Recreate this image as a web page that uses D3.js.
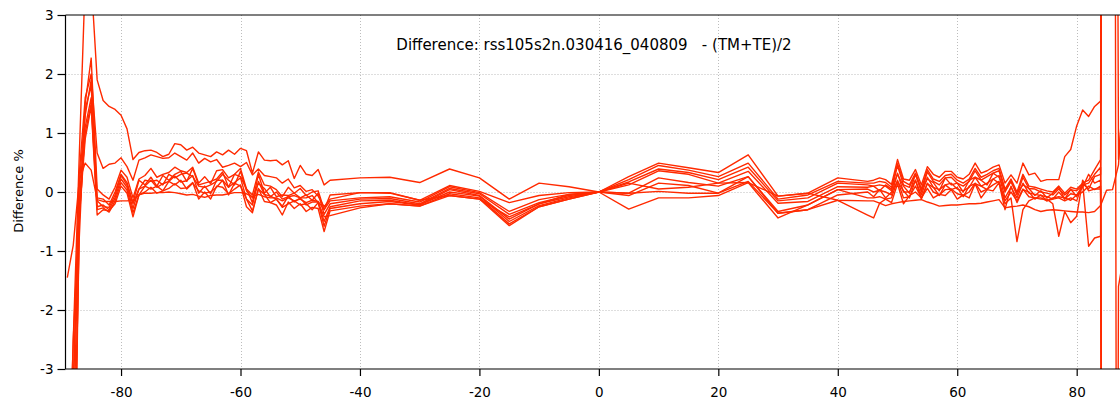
<!DOCTYPE html>
<html>
<head>
<meta charset="utf-8">
<script src="https://cdn.jsdelivr.net/npm/d3@7"></script>
<style>
  body { margin: 0; background: #fff; }
  svg { display: block; font-family: "DejaVu Sans", Verdana, sans-serif; }
</style>
</head>
<body>
<svg id="chart" width="1120" height="400"></svg>
<script>
// Latitude grid: 1-degree steps near the poles, 5-degree steps in between
const latitude = [
  -89,-88,-87,-86,-85,-84,-83,-82,-81,-80,-79,-78,-77,-76,-75,-74,-73,-72,-71,-70,
  -69,-68,-67,-66,-65,-64,-63,-62,-61,-60,-59,-58,-57,-56,-55,-54,-53,-52,-51,-50,
  -49,-48,-47,-46,
  -45,-40,-35,-30,-25,-20,-15,-10,-5,0,5,10,15,20,25,30,35,40,45,
  46,47,48,49,50,51,52,53,54,55,56,57,58,59,60,61,62,63,64,65,
  66,67,68,69,70,71,72,73,74,75,76,77,78,79,80,81,82,83,84,85,
  86,87,88,89
];

// Difference (%) for each curve, one value per latitude
const curve1 = [
  -6,-2.5,0.6,3.6,3.6,1.9,1.55,1.45,1.4,1.3,1.07,0.55,0.67,0.7,0.71,0.67,0.6,0.64,0.82,0.8,
  0.71,0.76,0.66,0.63,0.6,0.68,0.63,0.71,0.64,0.74,0.7,0.32,0.68,0.54,0.53,0.54,0.46,0.53,0.23,0.45,
  0.3,0.28,0.38,0.12,
  0.2,0.24,0.25,0.16,0.39,0.24,-0.12,0.15,0.09,0,0.26,0.49,0.41,0.33,0.63,-0.07,-0.02,0.24,0.18,
  0.2,0.24,0.21,0.13,0.55,0.22,0.2,0.38,0.12,0.43,0.3,0.25,0.35,0.35,0.25,0.22,0.3,0.49,0.32,0.36,
  0.42,0.46,0.15,0.29,0.15,0.49,0.29,0.32,0.18,0.21,0.21,0.21,0.6,0.72,1.12,1.39,1.28,1.45,1.54,30,
  30,-25,-30,-30
];
const curve2 = [
  -5,-3.5,0.3,1.6,2.0,0.66,0.4,0.47,0.49,0.58,0.43,0.2,0.54,0.58,0.63,0.6,0.57,0.58,0.66,0.6,
  0.54,0.66,0.49,0.57,0.51,0.55,0.42,0.45,0.49,0.43,0.5,0.29,0.39,0.28,0.26,0.24,0.15,0.22,0.07,0.11,
  0.01,0.04,-0.07,-0.25,
  -0.12,-0.01,-0.01,-0.14,0.11,0.01,-0.18,-0.06,-0.01,0,0.21,0.45,0.37,0.26,0.49,-0.12,-0.05,0.18,0.15,
  0.15,0.18,0.16,0.08,0.48,0.18,0.12,0.32,0.05,0.38,0.22,0.18,0.28,0.3,0.2,0.15,0.22,0.4,0.25,0.3,
  0.36,0.4,0.05,0.22,0.0,0.3,0.1,0.08,0.05,0.02,0.0,0.1,-0.02,0.08,0.05,0.15,0.2,0.38,0.55,30,
  30,0.55,2,3
];
const curve3 = [
  -9,-5.5,-0.8,1.5,2.27,0.05,-0.05,-0.12,0.08,0.37,0.25,-0.1,0.22,0.28,0.4,0.25,0.3,0.33,0.42,0.36,
  0.33,0.42,0.15,0.26,0.14,0.36,0.38,0.24,0.3,0.4,0.05,-0.05,0.34,0.12,0.1,0.04,-0.08,0.08,-0.02,0.06,
  -0.06,0.0,0.02,-0.3,
  -0.15,-0.1,-0.08,-0.17,0.09,-0.01,-0.33,-0.13,-0.04,0,0.17,0.39,0.33,0.21,0.42,-0.15,-0.1,0.15,0.12,
  0.1,0.12,0.1,0.02,0.45,0.12,0.08,0.3,0.0,0.34,0.18,0.12,0.24,0.25,0.15,0.1,0.18,0.36,0.2,0.26,
  0.32,0.36,0.0,0.18,-0.05,0.25,0.06,0.05,0.0,-0.02,-0.05,0.05,-0.05,0.04,0.02,0.12,0.15,0.3,0.42,-30,
  -30,-1.6,-1,0
];
const curve4 = [
  -7,-3.2,-0.2,1.3,1.9,-0.1,-0.12,-0.22,0.0,0.3,0.16,-0.18,
  0.2,0.12,0.25,0.1,0.28,0.2,0.3,0.35,0.18,0.4,0.12,0.15,0.18,0.22,0.34,0.08,0.3,0.26,0.05,-0.18,
  0.3,-0.02,0.08,-0.08,-0.05,-0.06,-0.02,-0.1,-0.05,-0.14,-0.02,-0.38,
  -0.2,-0.12,-0.11,-0.2,0.06,-0.03,-0.38,-0.18,-0.06,0,0.12,0.36,0.3,0.15,0.35,-0.19,-0.16,0.09,0.08,
  0.1,0.02,0.12,0.05,0.3,0.1,-0.02,0.3,0.04,0.22,0.16,0.02,0.24,0.12,0.15,0.0,0.2,0.25,0.2,0.12,
  0.32,0.25,0.02,0.18,-0.02,0.12,0.06,-0.06,0.02,-0.1,-0.02,0.08,-0.12,0.05,-0.08,0.14,0.05,0.26,0.3,30,
  30,5,5,5
];
const curve5 = [
  -10,-6,-0.5,1.1,1.6,-0.25,-0.22,-0.3,-0.1,0.22,0.08,-0.28,0.05,0.1,0.2,0.08,0.14,0.18,0.27,0.17,
  0.19,0.28,-0.02,0.1,-0.03,0.2,0.2,0.08,0.16,0.24,-0.12,-0.22,0.18,-0.04,-0.07,-0.12,-0.24,-0.07,-0.17,-0.1,
  -0.22,-0.17,-0.17,-0.5,
  -0.25,-0.15,-0.14,-0.22,0.04,-0.06,-0.46,-0.2,-0.08,0,-0.02,0.24,0.16,0.1,0.26,-0.33,-0.22,0.04,0.05,
  0.0,0.03,0.0,-0.05,0.32,0.0,0.0,0.2,-0.05,0.25,0.08,0.04,0.12,0.15,0.05,0.02,0.08,0.25,0.1,0.15,
  0.22,0.28,-0.1,0.08,-0.1,0.15,-0.02,-0.04,-0.06,-0.08,-0.12,0.0,-0.12,-0.03,-0.05,0.08,0.3,0.15,0.2,-30,
  -30,-30,-30,-30
];
const curve6 = [
  -6,-2.5,-0.3,1.0,1.5,-0.3,-0.27,-0.34,-0.15,0.16,0.03,-0.35,
  -0.05,0.1,0.05,0.1,0.02,0.18,0.12,0.2,0.05,0.15,0.02,-0.02,0.0,0.08,0.2,-0.05,0.15,0.1,-0.12,-0.32,
  0.05,-0.04,-0.18,-0.12,-0.26,-0.2,-0.15,-0.22,-0.2,-0.3,-0.18,-0.58,
  -0.28,-0.2,-0.16,-0.22,0.0,-0.07,-0.5,-0.23,-0.1,0,-0.06,0.15,0.11,-0.02,0.18,-0.36,-0.3,-0.05,0.0,
  -0.08,0.04,-0.1,0.0,0.18,0.02,-0.1,0.2,-0.12,0.14,0.08,-0.06,0.12,0.04,0.08,-0.08,0.1,0.14,0.1,0.04,
  0.22,0.15,-0.3,0.1,-0.18,0.04,0.0,-0.12,-0.05,-0.15,-0.1,-0.08,-0.1,-0.14,-0.05,0.0,0.1,0.04,0.1,-30,
  -30,-30,-30,-30
];
const curve7 = [
  -11,-7,-0.4,0.9,1.45,-0.39,-0.3,-0.32,-0.2,0.1,-0.02,-0.42,-0.05,0.0,0.08,-0.02,0.02,0.06,0.14,0.06,
  0.07,0.16,-0.12,0.0,-0.12,0.1,0.08,-0.03,0.05,0.12,-0.25,-0.35,0.06,-0.16,-0.18,-0.22,-0.39,-0.17,-0.28,-0.2,
  -0.33,-0.26,-0.28,-0.67,
  -0.32,-0.24,-0.2,-0.24,-0.03,-0.1,-0.54,-0.25,-0.12,0,0.15,0.05,0.08,0.15,0.16,-0.44,-0.22,0.04,-0.1,
  -0.1,-0.08,-0.12,-0.1,0.2,-0.1,-0.08,0.1,-0.1,0.15,0.0,-0.05,0.04,0.05,-0.03,-0.06,0.0,0.15,0.0,0.05,
  0.12,0.18,-0.15,0.0,-0.15,0.05,-0.08,-0.1,-0.12,-0.12,-0.2,-0.75,-0.33,-0.52,-0.41,0.2,0.02,0.05,0.05,-30,
  -30,-30,-30,-30
];
const curve8 = [
  -7.5,-4.5,0.1,1.4,1.8,-0.15,-0.25,-0.26,-0.05,0.28,0.12,-0.2,
  0.05,0.2,0.18,0.2,0.12,0.3,0.24,0.3,0.32,0.26,0.1,0.08,0.12,0.18,0.3,0.2,0.12,0.35,0.02,-0.1,
  0.15,0.06,-0.08,0.0,-0.12,-0.08,-0.06,-0.1,-0.1,-0.06,-0.18,-0.42,
  -0.4,-0.27,-0.2,-0.24,-0.06,-0.12,-0.57,-0.25,-0.12,0,-0.02,0.01,-0.02,-0.02,0.26,-0.36,-0.3,-0.14,-0.39,
  -0.44,-0.19,-0.12,-0.18,0.14,-0.2,-0.06,0.0,-0.1,0.06,-0.1,-0.04,-0.06,0.04,-0.12,-0.05,-0.1,0.14,-0.1,0.04,
  0.02,0.16,-0.2,-0.1,-0.84,-0.3,-0.15,-0.1,-0.1,-0.15,-0.12,-0.1,-0.15,-0.1,-0.15,0.15,-0.92,-0.78,-0.75,30,
  30,30,30,30
];
const curve9 = [
  -1.45,-0.9,0.2,0.49,0.37,-0.13,-0.16,-0.16,-0.16,-0.15,-0.15,-0.14,-0.05,-0.02,-0.02,-0.01,-0.01,0.0,-0.01,-0.03,
  -0.05,-0.04,-0.07,-0.09,-0.06,-0.05,-0.05,-0.03,-0.01,-0.01,-0.03,-0.08,-0.04,-0.08,-0.1,-0.1,-0.15,-0.1,-0.15,-0.12,
  -0.18,-0.14,-0.16,-0.3,
  -0.05,-0.01,-0.02,-0.14,-0.06,-0.12,-0.42,-0.2,-0.04,0,-0.29,-0.1,-0.1,-0.06,0.16,-0.07,-0.02,-0.14,-0.15,
  -0.15,-0.19,-0.23,-0.2,-0.18,-0.16,-0.15,-0.14,-0.13,-0.17,-0.2,-0.24,-0.23,-0.22,-0.22,-0.21,-0.2,-0.2,-0.19,-0.17,
  -0.15,-0.13,-0.27,-0.25,-0.24,-0.22,-0.25,-0.3,-0.33,-0.31,-0.3,-0.31,-0.32,-0.33,-0.34,-0.34,-0.35,-0.33,-0.23,0.03,
  0.04,0.46,2,3
];

const curves = [curve1, curve2, curve3, curve4, curve5, curve6, curve7, curve8, curve9];

const xTicks = [-80, -60, -40, -20, 0, 20, 40, 60, 80];
const yTicks = [-3, -2, -1, 0, 1, 2, 3];
const titleText = "Difference: rss105s2n.030416_040809   - (TM+TE)/2";
const yAxisLabel = "Difference %";

const svg = d3.select("#chart");
const frame = { left: 65.5, right: 1140, top: 15, bottom: 369 };

const x = d3.scaleLinear().domain([-89.3, 90.6]).range([frame.left, frame.right]);
const y = d3.scaleLinear().domain([-3, 3]).range([frame.bottom, frame.top]);

// dotted grid
const grid = svg.append("g").attr("stroke", "#bdbdbd").attr("stroke-width", 1)
  .attr("stroke-dasharray", "1,2");
grid.selectAll("line.gx").data(xTicks).join("line").attr("class", "gx")
  .attr("x1", d => Math.round(x(d)) + 0.5).attr("x2", d => Math.round(x(d)) + 0.5)
  .attr("y1", frame.top).attr("y2", frame.bottom);
grid.selectAll("line.gy").data(yTicks.filter(d => d > -3 && d < 3)).join("line").attr("class", "gy")
  .attr("y1", d => Math.round(y(d)) + 0.5).attr("y2", d => Math.round(y(d)) + 0.5)
  .attr("x1", frame.left).attr("x2", frame.right);

// data curves, clipped to the plot frame
svg.append("clipPath").attr("id", "plotClip").append("rect")
  .attr("x", frame.left).attr("y", frame.top)
  .attr("width", frame.right - frame.left).attr("height", frame.bottom - frame.top);

const line = d3.line().x((d, i) => x(latitude[i])).y(d => y(d));
svg.append("g").attr("clip-path", "url(#plotClip)")
  .selectAll("path").data(curves).join("path")
  .attr("d", line)
  .attr("fill", "none")
  .attr("stroke", "#ff2a00")
  .attr("stroke-width", 1.4)
  .attr("stroke-linejoin", "round");

// frame: top edge
svg.append("line").attr("x1", frame.left).attr("x2", frame.right)
  .attr("y1", frame.top).attr("y2", frame.top)
  .attr("stroke", "#000").attr("stroke-width", 1.2);

// axes
const yAxis = d3.axisLeft(y).tickValues(yTicks).tickSize(8).tickPadding(4)
  .tickFormat(d => String(d));
const gy = svg.append("g").attr("transform", `translate(${frame.left},0)`).call(yAxis);

const xAxis = d3.axisBottom(x).tickValues(xTicks).tickSize(7).tickPadding(11)
  .tickFormat(d => String(d));
const gx = svg.append("g").attr("transform", `translate(0,${frame.bottom})`).call(xAxis);

[gx, gy].forEach(g => {
  g.select(".domain").attr("stroke", "#000").attr("stroke-width", 1.2);
  g.selectAll(".tick line").attr("stroke", "#000").attr("stroke-width", 1.2);
  g.selectAll(".tick text").attr("fill", "#000")
    .style("font-family", "'DejaVu Sans', Verdana, sans-serif").style("font-size", "13.5px");
});
gy.select(".domain").attr("d", `M0,${frame.top}V${frame.bottom}`);
gx.select(".domain").attr("d", `M${frame.left},0H${frame.right}`);

// title
svg.append("text")
  .attr("x", 594).attr("y", 50)
  .attr("text-anchor", "middle")
  .style("font-size", "15px")
  .style("white-space", "pre")
  .attr("xml:space", "preserve")
  .text(titleText);

// y-axis label
svg.append("text")
  .attr("transform", "translate(23,191) rotate(-90)")
  .attr("text-anchor", "middle")
  .style("font-size", "13px")
  .text(yAxisLabel);
</script>
</body>
</html>
